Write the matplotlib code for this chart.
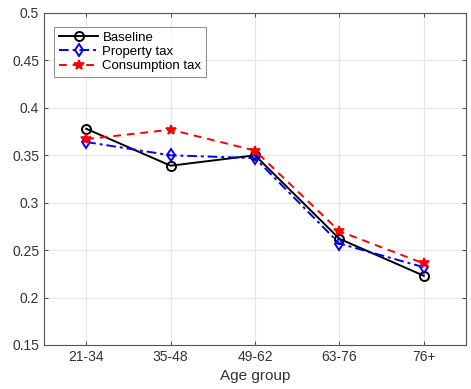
import numpy as np
import matplotlib.pyplot as plt

plt.rcParams['font.family'] = ['Liberation Sans', 'DejaVu Sans']

groups = ['21-34', '35-48', '49-62', '63-76', '76+']
baseline = [0.378, 0.339, 0.350, 0.262, 0.223]
property_tax = [0.364, 0.350, 0.347, 0.257, 0.232]
consumption_tax = [0.367, 0.377, 0.355, 0.270, 0.236]

x = np.arange(1, len(groups) + 1)

fig = plt.figure(figsize=(4.71, 3.89), dpi=100)
ax = fig.add_axes([44 / 471, 1 - 345 / 389, 422 / 471, 332 / 389])

ax.plot(x, baseline, '-', color='black', lw=1.4, marker='o', ms=6.5,
        mfc='none', mew=1.4, label='Baseline')
ax.plot(x, property_tax, color='blue', lw=1.4, ls=(0, (5, 2, 1.5, 2)),
        marker='d', ms=6.5, mfc='none', mew=1.4, label='Property tax')
ax.plot(x, consumption_tax, color='red', lw=1.4, ls=(0, (4, 3)),
        marker='*', ms=7, mfc='red', mew=1.2, label='Consumption tax')

ax.set_xlim(0.5, 5.5)
ax.set_ylim(0.15, 0.5)
ax.set_xticks(x)
ax.set_xticklabels(groups)
ax.set_yticks(np.arange(0.15, 0.501, 0.05))
ax.set_yticklabels(['0.15', '0.2', '0.25', '0.3', '0.35', '0.4', '0.45', '0.5'])
ax.set_xlabel('Age group', fontsize=11, color='#333333')

ax.grid(True, color='#e6e6e6', lw=0.8)
ax.set_axisbelow(True)
ax.tick_params(direction='in', top=True, right=True, labelsize=10,
               colors='#333333', length=3, width=0.6)
for s in ax.spines.values():
    s.set_color('#555555')
    s.set_linewidth(0.8)

leg = ax.legend(loc='upper left', bbox_to_anchor=(0.015, 0.97), fontsize=9.5,
                frameon=True, fancybox=False, edgecolor='#555555',
                handlelength=3.0, borderpad=0.35, labelspacing=0.15,
                handletextpad=0.3, borderaxespad=0.3)
leg.get_frame().set_linewidth(0.6)

fig.savefig('out.png', dpi=100)
